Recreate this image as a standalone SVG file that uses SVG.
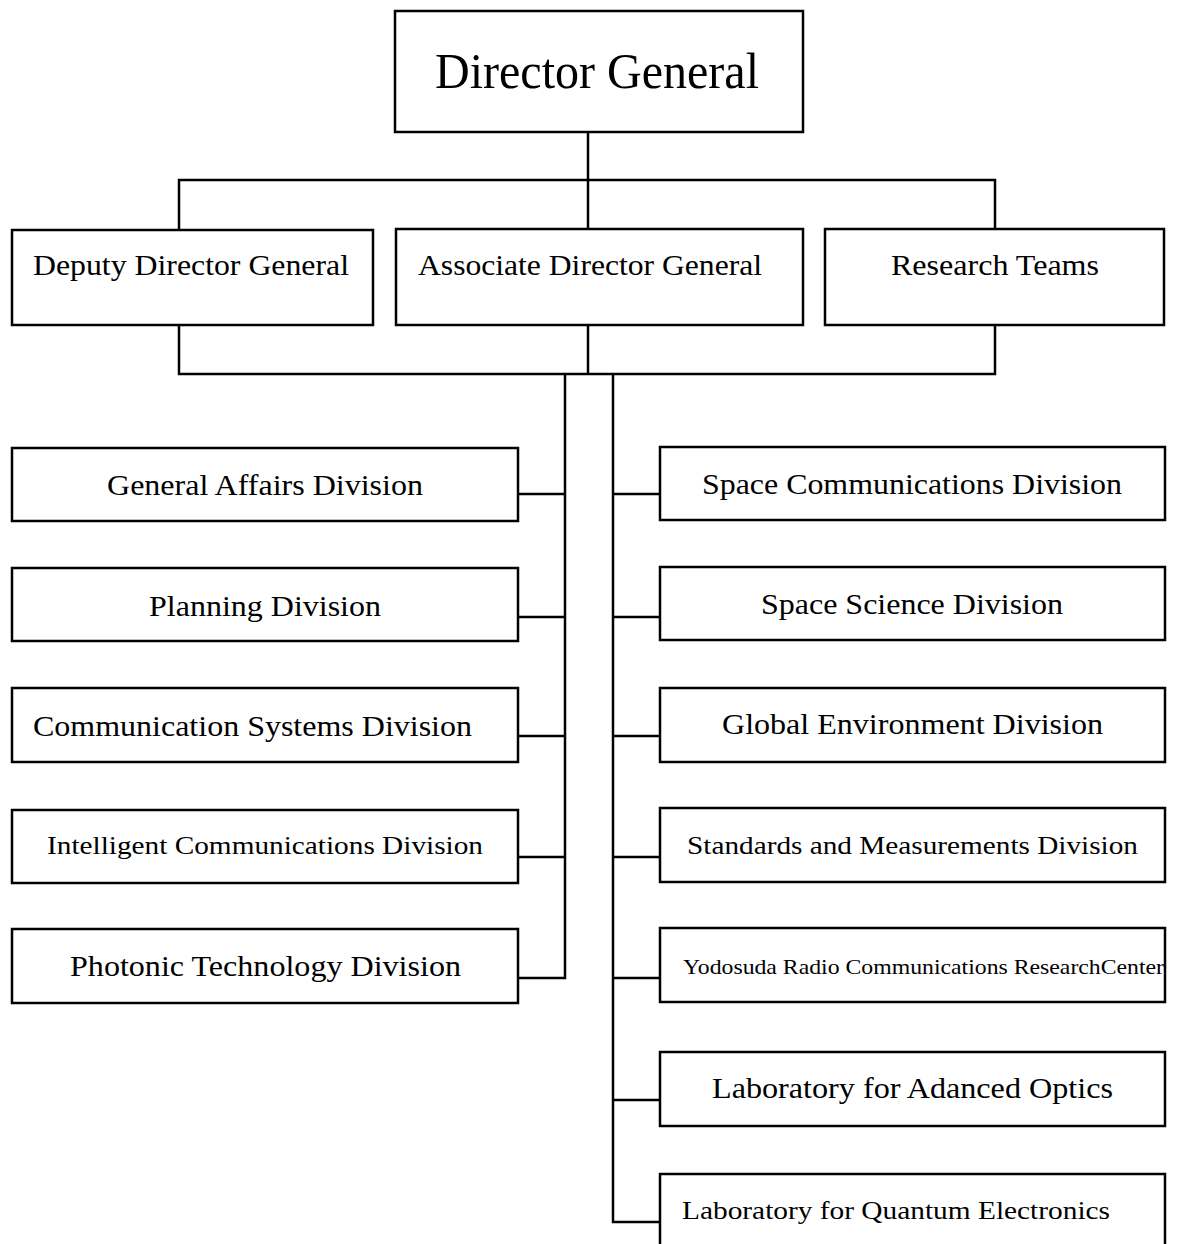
<svg xmlns="http://www.w3.org/2000/svg" width="1181" height="1244" viewBox="0 0 1181 1244">
<style>
.box{fill:#fff;stroke:#000;stroke-width:2.5}
.ln{fill:none;stroke:#000;stroke-width:2.5}
text{font-family:"Liberation Serif","Times New Roman",serif;fill:#000}
.t{font-size:30px}
.s{font-size:26px}
</style>
<rect width="1181" height="1244" fill="#fff"/>
<g id="connectors" class="ln">
<path d="M588 132V229"/>
<path d="M179 230V180H995V229"/>
<path d="M179 325V374H995V325"/>
<path d="M588 325V374"/>
<path d="M565 374V978H518"/>
<path d="M518 494H565M518 617H565M518 736H565M518 857H565"/>
<path d="M613 374V1222H660"/>
<path d="M613 494H660M613 617H660M613 736H660M613 857H660M613 978H660M613 1100H660"/>
</g>
<g id="director-general"><rect class="box" x="395" y="11" width="408" height="121"/><text x="435" y="88" font-size="50" textLength="324" lengthAdjust="spacingAndGlyphs">Director General</text></g>
<g id="deputy-director-general"><rect class="box" x="12" y="230" width="361" height="95"/><text class="t" x="33" y="275" textLength="316" lengthAdjust="spacingAndGlyphs">Deputy Director General</text></g>
<g id="associate-director-general"><rect class="box" x="396" y="229" width="407" height="96"/><text class="t" x="418" y="275" textLength="344" lengthAdjust="spacingAndGlyphs">Associate Director General</text></g>
<g id="research-teams"><rect class="box" x="825" y="229" width="339" height="96"/><text class="t" x="891" y="275" textLength="208" lengthAdjust="spacingAndGlyphs">Research Teams</text></g>
<g id="general-affairs"><rect class="box" x="12" y="448" width="506" height="73"/><text class="t" x="107" y="495" textLength="316" lengthAdjust="spacingAndGlyphs">General Affairs Division</text></g>
<g id="planning"><rect class="box" x="12" y="568" width="506" height="73"/><text class="t" x="149" y="616" textLength="232" lengthAdjust="spacingAndGlyphs">Planning Division</text></g>
<g id="communication-systems"><rect class="box" x="12" y="688" width="506" height="74"/><text class="t" x="33" y="736" textLength="439" lengthAdjust="spacingAndGlyphs">Communication Systems Division</text></g>
<g id="intelligent-communications"><rect class="box" x="12" y="810" width="506" height="73"/><text class="s" x="47" y="854" textLength="436" lengthAdjust="spacingAndGlyphs">Intelligent Communications Division</text></g>
<g id="photonic-technology"><rect class="box" x="12" y="929" width="506" height="74"/><text class="t" x="70" y="976" textLength="391" lengthAdjust="spacingAndGlyphs">Photonic Technology Division</text></g>
<g id="space-communications"><rect class="box" x="660" y="447" width="505" height="73"/><text class="t" x="702" y="494" textLength="420" lengthAdjust="spacingAndGlyphs">Space Communications Division</text></g>
<g id="space-science"><rect class="box" x="660" y="567" width="505" height="73"/><text class="t" x="761" y="614" textLength="302" lengthAdjust="spacingAndGlyphs">Space Science Division</text></g>
<g id="global-environment"><rect class="box" x="660" y="688" width="505" height="74"/><text class="t" x="722" y="734" textLength="381" lengthAdjust="spacingAndGlyphs">Global Environment Division</text></g>
<g id="standards-measurements"><rect class="box" x="660" y="808" width="505" height="74"/><text class="s" x="687" y="854" textLength="451" lengthAdjust="spacingAndGlyphs">Standards and Measurements Division</text></g>
<g id="yodosuda"><rect class="box" x="660" y="928" width="505" height="74"/><text x="683" y="974" font-size="22" textLength="481" lengthAdjust="spacingAndGlyphs">Yodosuda Radio Communications ResearchCenter</text></g>
<g id="advanced-optics"><rect class="box" x="660" y="1052" width="505" height="74"/><text class="t" x="712" y="1098" textLength="401" lengthAdjust="spacingAndGlyphs">Laboratory for Adanced Optics</text></g>
<g id="quantum-electronics"><rect class="box" x="660" y="1174" width="505" height="90"/><text class="s" x="682" y="1219" textLength="428" lengthAdjust="spacingAndGlyphs">Laboratory for Quantum Electronics</text></g>
</svg>
